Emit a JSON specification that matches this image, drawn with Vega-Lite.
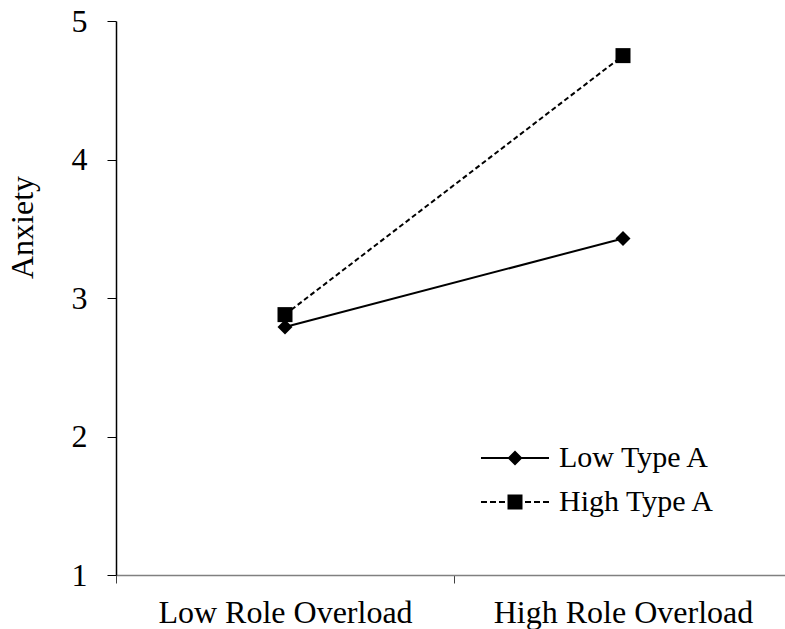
{
  "$schema": "https://vega.github.io/schema/vega-lite/v6.json",
  "autosize": "none",
  "width": 669,
  "height": 554,
  "padding": {"left": 116, "top": 21, "right": 0, "bottom": 54},
  "background": "white",
  "config": {
    "view": {"stroke": null},
    "font": "Liberation Serif",
    "axis": {"labelFont": "Liberation Serif", "titleFont": "Liberation Serif", "labelColor": "black", "titleColor": "black", "grid": false},
    "legend": {"labelFont": "Liberation Serif"}
  },
  "data": {
    "values": [
      {"overload": "Low Role Overload", "group": "Low Type A", "anxiety": 2.79},
      {"overload": "High Role Overload", "group": "Low Type A", "anxiety": 3.43},
      {"overload": "Low Role Overload", "group": "High Type A", "anxiety": 2.88},
      {"overload": "High Role Overload", "group": "High Type A", "anxiety": 4.75}
    ]
  },
  "encoding": {
    "x": {
      "field": "overload",
      "type": "nominal",
      "sort": ["Low Role Overload", "High Role Overload"],
      "bandPosition": 0.5,
      "scale": {"type": "band", "paddingInner": 0, "paddingOuter": 0, "range": [0, 676]},
      "axis": {
        "title": null,
        "labelAngle": 0,
        "labelFont": "Liberation Serif",
        "labelFontSize": 32,
        "labelLimit": 0,
        "labelPadding": 14,
        "tickBand": "extent",
        "tickSize": 8,
        "tickColor": "#404040",
        "domainColor": "#808080",
        "domainWidth": 1.5,
        "labelBaseline": "top"
      }
    },
    "y": {
      "field": "anxiety",
      "type": "quantitative",
      "scale": {"domain": [1, 5], "nice": false, "zero": false},
      "axis": {
        "title": "Anxiety",
        "titleFont": "Liberation Serif",
        "titleFontSize": 32,
        "titleFontWeight": "normal",
        "titleAngle": -90,
        "titleX": -84,
        "titleY": 206,
        "titleAlign": "center",
        "titleBaseline": "alphabetic",
        "values": [1, 2, 3, 4, 5],
        "labelFont": "Liberation Serif",
        "labelFontSize": 32,
        "labelPadding": 20,
        "tickSize": 9,
        "tickColor": "black",
        "domainColor": "black",
        "domainWidth": 1.5,
        "labelBaseline": "middle"
      }
    }
  },
  "layer": [
    {
      "transform": [{"filter": "datum.group == 'Low Type A'"}],
      "mark": {"type": "line", "color": "black", "strokeWidth": 2}
    },
    {
      "transform": [{"filter": "datum.group == 'High Type A'"}],
      "mark": {"type": "line", "color": "black", "strokeWidth": 2, "strokeDash": [5, 3]}
    },
    {
      "transform": [{"filter": "datum.group == 'Low Type A'"}],
      "mark": {"type": "point", "filled": true, "color": "black", "size": 225, "opacity": 1, "shape": "diamond"}
    },
    {
      "transform": [{"filter": "datum.group == 'High Type A'"}],
      "mark": {"type": "point", "filled": true, "color": "black", "size": 225, "opacity": 1, "shape": "square"}
    },
    {
      "transform": [{"filter": "false"}],
      "mark": {"type": "point", "filled": true, "color": "black", "opacity": 1},
      "encoding": {
        "shape": {
          "field": "group",
          "type": "nominal",
          "scale": {
            "domain": ["Low Type A", "High Type A"],
            "range": [
              "M-2.267,-0.067H2.267V0.067H-2.267ZM0,-0.5L0.5,0L0,0.5L-0.5,0Z",
              "M-2.267,-0.067H-1.867V0.067H-2.267ZM-1.667,-0.067H-1.267V0.067H-1.667ZM-1.067,-0.067H-0.667V0.067H-1.067ZM0.667,-0.067H1.067V0.067H0.667ZM1.267,-0.067H1.667V0.067H1.267ZM1.867,-0.067H2.267V0.067H1.867ZM-0.5,-0.5H0.5V0.5H-0.5Z"
            ]
          },
          "legend": {
            "title": null,
            "orient": "none",
            "legendX": 383,
            "legendY": 421,
            "padding": 0,
            "labelFontSize": 30,
            "labelFont": "Liberation Serif",
            "labelColor": "black",
            "labelOffset": 28,
            "symbolSize": 900,
            "symbolFillColor": "black",
            "symbolOpacity": 1,
            "rowPadding": 13
          }
        }
      }
    }
  ]
}
